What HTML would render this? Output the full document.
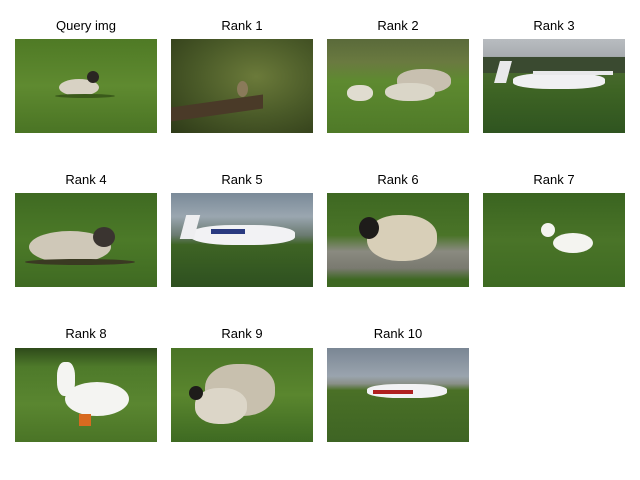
<!DOCTYPE html>
<html>
<head>
<meta charset="utf-8">
<style>
  html,body{margin:0;padding:0;background:#fff;}
  body{width:640px;height:480px;position:relative;overflow:hidden;font-family:"Liberation Sans","DejaVu Sans",sans-serif;}
  .cell{position:absolute;width:142px;height:94px;overflow:hidden;}
  .title{position:absolute;width:142px;text-align:center;font-size:13px;color:#000;line-height:14px;}
  .s{position:absolute;}
</style>
</head>
<body>

<!-- Row 1 -->
<div class="title" style="left:15px;top:19px;">Query img</div>
<div class="cell" style="left:15px;top:39px;background:linear-gradient(180deg,#4f7a25 0%,#5f8a30 50%,#4a7424 100%);">
  <div class="s" style="left:44px;top:40px;width:40px;height:17px;border-radius:50%;background:#d8d2c4;"></div>
  <div class="s" style="left:72px;top:32px;width:12px;height:12px;border-radius:50%;background:#2a2622;"></div>
  <div class="s" style="left:40px;top:55px;width:60px;height:4px;background:#3a5a1a;border-radius:50%;"></div>
</div>

<div class="title" style="left:171px;top:19px;">Rank 1</div>
<div class="cell" style="left:171px;top:39px;background:radial-gradient(ellipse at 60% 40%,#6b7a3a 0%,#4a5a28 50%,#2e3a18 100%);">
  <div class="s" style="left:0;top:62px;width:92px;height:14px;background:#4a3a28;transform:skewY(-8deg);"></div>
  <div class="s" style="left:66px;top:42px;width:11px;height:16px;border-radius:50%;background:#8a7a5a;"></div>
</div>

<div class="title" style="left:327px;top:19px;">Rank 2</div>
<div class="cell" style="left:327px;top:39px;background:linear-gradient(180deg,#5a6a3a 0%,#6a7a40 25%,#5e8a30 45%,#4f7a28 100%);">
  <div class="s" style="left:70px;top:30px;width:54px;height:24px;border-radius:45%;background:#c8c0b0;"></div>
  <div class="s" style="left:20px;top:46px;width:26px;height:16px;border-radius:45%;background:#e0dcd0;"></div>
  <div class="s" style="left:58px;top:44px;width:50px;height:18px;border-radius:45%;background:#dad6c8;"></div>
</div>

<div class="title" style="left:483px;top:19px;">Rank 3</div>
<div class="cell" style="left:483px;top:39px;background:linear-gradient(180deg,#b8bcc0 0%,#a8acb0 18%,#4a6a30 30%,#3e6424 55%,#2f5420 100%);">
  <div class="s" style="left:0;top:18px;width:142px;height:16px;background:#3a4a30;"></div>
  <div class="s" style="left:30px;top:34px;width:92px;height:16px;border-radius:40%;background:#f0f0f2;"></div>
  <div class="s" style="left:14px;top:22px;width:12px;height:22px;background:#e8e8ea;transform:skewX(-15deg);"></div>
  <div class="s" style="left:50px;top:32px;width:80px;height:4px;background:#e8e8ea;"></div>
</div>

<!-- Row 2 -->
<div class="title" style="left:15px;top:173px;">Rank 4</div>
<div class="cell" style="left:15px;top:193px;background:linear-gradient(180deg,#3f6a22 0%,#4c7a28 50%,#3f6a22 100%);">
  <div class="s" style="left:14px;top:38px;width:82px;height:32px;border-radius:50%;background:#cfc8b8;"></div>
  <div class="s" style="left:78px;top:34px;width:22px;height:20px;border-radius:50%;background:#3a3430;"></div>
  <div class="s" style="left:10px;top:66px;width:110px;height:6px;background:#3a3a22;border-radius:50%;"></div>
</div>

<div class="title" style="left:171px;top:173px;">Rank 5</div>
<div class="cell" style="left:171px;top:193px;background:linear-gradient(180deg,#7a8a98 0%,#9aa6b0 25%,#6a7a70 45%,#3e6424 55%,#2e5020 100%);">
  <div class="s" style="left:20px;top:32px;width:104px;height:20px;border-radius:40%;background:#f2f2f4;"></div>
  <div class="s" style="left:12px;top:22px;width:14px;height:24px;background:#eeeef0;transform:skewX(-15deg);"></div>
  <div class="s" style="left:40px;top:36px;width:34px;height:5px;background:#2a3a80;"></div>
</div>

<div class="title" style="left:327px;top:173px;">Rank 6</div>
<div class="cell" style="left:327px;top:193px;background:linear-gradient(180deg,#3e6822 0%,#4a7428 45%,#8a8a80 62%,#7a7a70 80%,#3e6822 92%);">
  <div class="s" style="left:40px;top:22px;width:70px;height:46px;border-radius:45%;background:#d8cfb8;"></div>
  <div class="s" style="left:32px;top:24px;width:20px;height:22px;border-radius:50%;background:#1e1c1a;"></div>
</div>

<div class="title" style="left:483px;top:173px;">Rank 7</div>
<div class="cell" style="left:483px;top:193px;background:linear-gradient(180deg,#3a6420 0%,#4a7428 50%,#3e6a22 100%);">
  <div class="s" style="left:70px;top:40px;width:40px;height:20px;border-radius:50%;background:#f4f4f0;"></div>
  <div class="s" style="left:58px;top:30px;width:14px;height:14px;border-radius:50%;background:#f4f4f0;"></div>
</div>

<!-- Row 3 -->
<div class="title" style="left:15px;top:327px;">Rank 8</div>
<div class="cell" style="left:15px;top:348px;background:linear-gradient(180deg,#2e4a1a 0%,#4e7a2a 20%,#5a8630 60%,#4a7426 100%);">
  <div class="s" style="left:50px;top:34px;width:64px;height:34px;border-radius:50%;background:#f4f4f2;"></div>
  <div class="s" style="left:42px;top:14px;width:18px;height:34px;border-radius:40%;background:#f4f4f2;"></div>
  <div class="s" style="left:64px;top:66px;width:12px;height:12px;background:#d86a20;"></div>
</div>

<div class="title" style="left:171px;top:327px;">Rank 9</div>
<div class="cell" style="left:171px;top:348px;background:linear-gradient(180deg,#4a7426 0%,#5a862e 50%,#3e6a22 100%);">
  <div class="s" style="left:34px;top:16px;width:70px;height:52px;border-radius:45%;background:#c8c0ae;"></div>
  <div class="s" style="left:24px;top:40px;width:52px;height:36px;border-radius:45%;background:#dcd6c8;"></div>
  <div class="s" style="left:18px;top:38px;width:14px;height:14px;border-radius:50%;background:#1e1c1a;"></div>
</div>

<div class="title" style="left:327px;top:327px;">Rank 10</div>
<div class="cell" style="left:327px;top:348px;background:linear-gradient(180deg,#7a8694 0%,#9aa4ae 30%,#8a9088 38%,#4a7026 45%,#3e6424 100%);">
  <div class="s" style="left:40px;top:36px;width:80px;height:14px;border-radius:40%;background:#f2f2f4;"></div>
  <div class="s" style="left:46px;top:42px;width:40px;height:4px;background:#b02020;"></div>
</div>

</body>
</html>
